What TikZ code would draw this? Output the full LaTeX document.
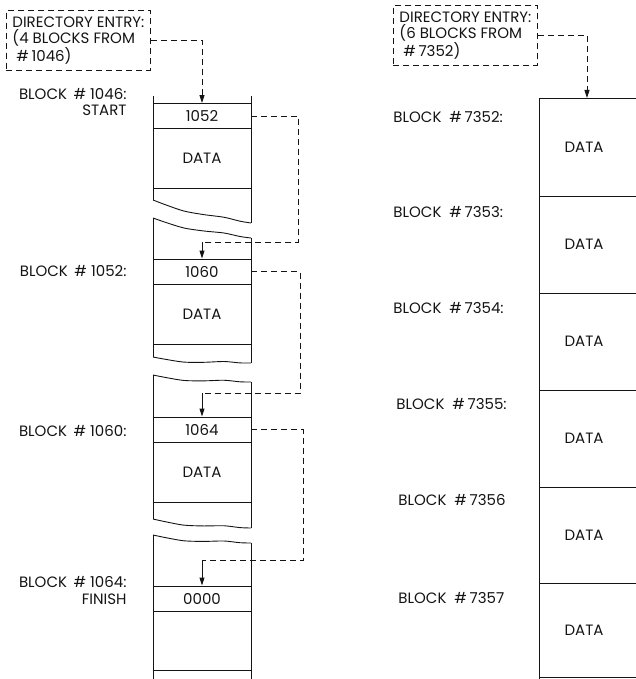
\documentclass[tikz,border=0pt]{standalone}
\usepackage{fontspec}
\setmainfont{Poppins}
\usepackage{tikz}
\usetikzlibrary{arrows.meta, calc}
\definecolor{inkBlack}{RGB}{20,20,20}
\newcommand{\tearline}[2]{%
  \draw plot[smooth, tension=0.5] coordinates {(153,#1) (166,{#1+0.15*(#2-#1)+1.5})
    (184,{#1+0.35*(#2-#1)+3}) (204,{#1+0.55*(#2-#1)+2}) (224,{#1+0.75*(#2-#1)})
    (240,{#1+0.9*(#2-#1)+0.5}) (251,#2)};}

\begin{document}
\begin{tikzpicture}[
  x=1pt, y=-1pt, line width=0.9pt, draw=inkBlack, text=inkBlack,
  font=\fontsize{15}{16.5}\selectfont,
  dirbox/.style={draw, dashed, dash pattern=on 6pt off 4pt, anchor=north west,
    align=left, inner xsep=6pt, inner ysep=0pt, minimum height=60pt},
  field/.style={draw, minimum width=98pt, minimum height=25pt, inner sep=0pt},
  cell/.style={draw, minimum width=98pt, minimum height=60pt, inner sep=0pt},
  lbl/.style={anchor=base east, align=right, inner sep=0pt},
  rlbl/.style={anchor=west, inner sep=0pt},
  link/.style={dashed, dash pattern=on 6pt off 4pt},
  tip/.style={-{Triangle[length=8pt, width=5pt]}},
]
  \useasboundingbox (0,0) rectangle (636,679);

  % left file: linked blocks
  \node[dirbox] (dirA) at (6,10)
    {DIRECTORY ENTRY:\\(4 BLOCKS FROM\\\ \#\,1046)};

  \draw (153,96) -- (153,200);
  \draw (251,96) -- (251,223);
  \tearline{200}{223}
  \node[field] (ptrA) at (202,116) {1052};
  \node[cell] (dataA) at (202,158) {DATA};
  \node[lbl] (lblA) at (127,116) {BLOCK \,\# 1046:\\START};

  \tearline{218}{238}
  \draw (153,218) -- (153,357);
  \draw (251,238) -- (251,363);
  \tearline{357}{363}
  \node[field] (ptrB) at (202,271.5) {1060};
  \node[cell] (dataB) at (202,314) {DATA};
  \node[lbl] (lblB) at (127,276) {BLOCK \,\# 1052:};

  \tearline{375}{382}
  \draw (153,375) -- (153,519);
  \draw (251,382) -- (251,528);
  \tearline{519}{528}
  \node[field] (ptrC) at (202,429.5) {1064};
  \node[cell] (dataC) at (202,472) {DATA};
  \node[lbl] (lblC) at (127,436) {BLOCK \,\# 1060:};

  \tearline{535}{543}
  \draw (153,535) -- (153,679);
  \draw (251,543) -- (251,679);
  \node[field] (ptrD) at (202,598.5) {0000};
  \draw (ptrD.south west) ++(0,59) -- ++(98,0);
  \node[lbl] (lblD) at (127,604) {BLOCK \,\# 1064:\\FINISH};

  \coordinate (jogB) at (202,242);
  \coordinate (jogC) at (202,393);
  \coordinate (jogD) at (202,560);
  \draw[link, tip] (dirA.east) -| (ptrA.north);
  \draw[link] (ptrA.east) -- ++(47,0) |- (jogB);
  \draw[tip] (jogB) -- (ptrB.north);
  \draw[link] (ptrB.east) -- ++(49,0) |- (jogC);
  \draw[tip] (jogC) -- (ptrC.north);
  \draw[link] (ptrC.east) -- ++(52,0) |- (jogD);
  \draw[tip] (jogD) -- (ptrD.north);

  % right file: contiguous blocks
  \node[dirbox] (dirB) at (393,5)
    {DIRECTORY ENTRY:\\(6 BLOCKS FROM\\\ \#\,7352)};
  \coordinate (topR) at (587,98);
  \draw[link, tip] (dirB.east) -| (topR);

  \draw (539,98) -- (539,679);
  \foreach \y in {98,196,293,390,487,583,677}
    \draw (539,\y) -- (636,\y);
  \node (dataR1) at (584,147) {DATA};
  \node (dataR2) at (584,244.5) {DATA};
  \node (dataR3) at (584,341.5) {DATA};
  \node (dataR4) at (584,438.5) {DATA};
  \node (dataR5) at (584,535) {DATA};
  \node (dataR6) at (584,630) {DATA};

  \node[rlbl] (lblR1) at (393,117) {BLOCK \ \#\,7352:};
  \node[rlbl] (lblR2) at (393,212) {BLOCK \ \#\,7353:};
  \node[rlbl] (lblR3) at (393,308) {BLOCK \ \#\,7354:};
  \node[rlbl] (lblR4) at (396,404) {BLOCK \ \#\,7355:};
  \node[rlbl] (lblR5) at (398,500) {BLOCK \ \#\,7356};
  \node[rlbl] (lblR6) at (398,598) {BLOCK \ \#\,7357};
\end{tikzpicture}
\end{document}
